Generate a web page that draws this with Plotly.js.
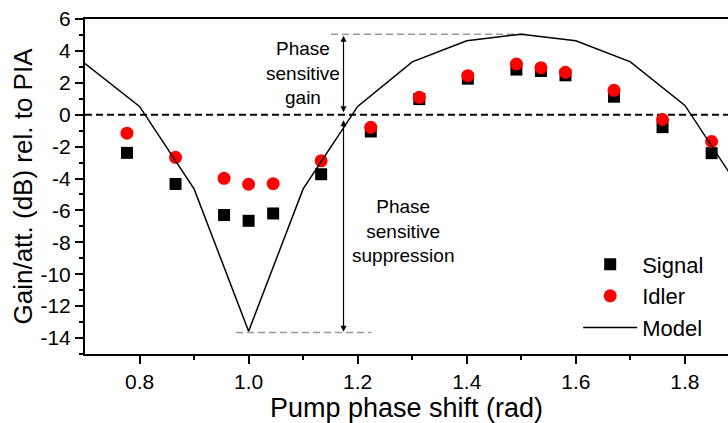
<!DOCTYPE html>
<html>
<head>
<meta charset="utf-8">
<script src="https://cdn.plot.ly/plotly-3.0.1.min.js"></script>
<style>
  html, body { margin: 0; padding: 0; background: #fff; overflow: hidden; }
  #chart { width: 728px; height: 423px; }
</style>
</head>
<body>
<div id="chart"></div>
<script>
// Measured data (pump phase shift in rad, gain/attenuation in dB)
const phaseData = [0.777, 0.866, 0.955, 1.000, 1.045, 1.133, 1.224, 1.313, 1.402, 1.491, 1.536, 1.581, 1.670, 1.759, 1.849];
const signalDb  = [-2.39, -4.34, -6.29, -6.65, -6.19, -3.73, -1.05, 0.98, 2.26, 2.83, 2.74, 2.47, 1.13, -0.78, -2.41];
const idlerDb   = [-1.16, -2.67, -3.99, -4.36, -4.32, -2.89, -0.79, 1.09, 2.45, 3.18, 2.95, 2.66, 1.53, -0.30, -1.68];

// Model curve
const modelPhase = [0.7, 0.8, 0.9, 1.0, 1.1, 1.2, 1.3, 1.4, 1.5, 1.6, 1.7, 1.8, 1.9];
const modelDb    = [3.21, 0.52, -4.65, -13.57, -4.65, 0.52, 3.31, 4.63, 5.05, 4.63, 3.31, 0.58, -4.6];

// Tick labels
const xTickVals = [0.8, 1.0, 1.2, 1.4, 1.6, 1.8];
const xTickText = ['0.8', '1.0', '1.2', '1.4', '1.6', '1.8'];
const yTickVals = [-14, -12, -10, -8, -6, -4, -2, 0, 2, 4, 6];
const yTickText = ['-14', '-12', '-10', '-8', '-6', '-4', '-2', '0', '2', '4', '6'];

// Annotation reference levels
const arrowX = 1.174;
const gainTop = 5.05;
const suppressionBottom = -13.65;
const gainLineX = [1.151, 1.513];
const suppLineX = [0.977, 1.225];

const font = "Arial, 'Liberation Sans', sans-serif";

const traces = [
  {
    x: phaseData, y: signalDb, name: 'Signal', type: 'scatter', mode: 'markers',
    marker: { symbol: 'square', size: 12, color: '#000000' }
  },
  {
    x: phaseData, y: idlerDb, name: 'Idler', type: 'scatter', mode: 'markers',
    marker: { symbol: 'circle', size: 13, color: '#ff0000' }
  },
  {
    x: modelPhase, y: modelDb, name: 'Model', type: 'scatter', mode: 'lines',
    line: { color: '#000000', width: 1.5 }
  }
];

const layout = {
  width: 728, height: 423,
  margin: { l: 85, r: 0, t: 19, b: 69 },
  paper_bgcolor: '#ffffff', plot_bgcolor: '#ffffff',
  font: { family: font, color: '#000' },
  showlegend: true,
  legend: {
    x: 0.767, y: 0.33, xanchor: 'left', yanchor: 'top',
    itemwidth: 54,
    font: { size: 22, family: font, color: '#000' },
    bgcolor: 'rgba(0,0,0,0)', traceorder: 'normal'
  },
  xaxis: {
    range: [0.7, 1.879],
    showgrid: false, zeroline: false,
    showline: true, linecolor: '#000', linewidth: 2, mirror: true,
    ticks: 'outside', ticklen: 8, tickwidth: 2, tickcolor: '#000',
    tickvals: xTickVals, ticktext: xTickText,
    minor: { tickvals: [0.9, 1.1, 1.3, 1.5, 1.7], ticks: 'outside', ticklen: 4, tickwidth: 2, tickcolor: '#000' },
    tickfont: { size: 21, family: font, color: '#000' },
    title: { text: 'Pump phase shift (rad)', font: { size: 27, family: font, color: '#000' }, standoff: 3 }
  },
  yaxis: {
    range: [-15, 6],
    showgrid: false, zeroline: false,
    showline: true, linecolor: '#000', linewidth: 2, mirror: false,
    ticks: 'outside', ticklen: 8, tickwidth: 2, tickcolor: '#000',
    tickvals: yTickVals, ticktext: yTickText,
    minor: { tickvals: [-15, -13, -11, -9, -7, -5, -3, -1, 1, 3, 5], ticks: 'outside', ticklen: 4, tickwidth: 2, tickcolor: '#000' },
    tickfont: { size: 21, family: font, color: '#000' },
    title: { text: 'Gain/att. (dB) rel. to PIA', font: { size: 26, family: font, color: '#000' }, standoff: 0 }
  },
  shapes: [
    { type: 'line', xref: 'paper', x0: 0, x1: 1, yref: 'y', y0: 0, y1: 0,
      line: { color: '#000', width: 2, dash: '7px,4px' }, layer: 'below' },
    { type: 'line', xref: 'x', x0: gainLineX[0], x1: gainLineX[1], yref: 'y', y0: gainTop, y1: gainTop,
      line: { color: '#999', width: 1.5, dash: '7px,4px' }, layer: 'below' },
    { type: 'line', xref: 'x', x0: suppLineX[0], x1: suppLineX[1], yref: 'y', y0: suppressionBottom, y1: suppressionBottom,
      line: { color: '#999', width: 1.5, dash: '7px,4px' }, layer: 'below' }
  ],
  annotations: [
    { x: arrowX, y: 0.15, ax: arrowX, ay: gainTop, xref: 'x', yref: 'y', axref: 'x', ayref: 'y',
      text: '', showarrow: true, arrowside: 'end+start', arrowhead: 2, startarrowhead: 2,
      arrowsize: 1, startarrowsize: 1, arrowwidth: 1.2, arrowcolor: '#000', standoff: 0, startstandoff: 0 },
    { x: arrowX, y: suppressionBottom + 0.05, ax: arrowX, ay: -0.25, xref: 'x', yref: 'y', axref: 'x', ayref: 'y',
      text: '', showarrow: true, arrowside: 'end+start', arrowhead: 2, startarrowhead: 2,
      arrowsize: 1, startarrowsize: 1, arrowwidth: 1.2, arrowcolor: '#000', standoff: 0, startstandoff: 0 },
    { x: 1.100, y: 2.6, xref: 'x', yref: 'y', showarrow: false, align: 'center',
      text: 'Phase<br>sensitive<br>gain', font: { size: 19, family: font, color: '#000' } },
    { x: 1.283, y: -7.3, xref: 'x', yref: 'y', showarrow: false, align: 'center',
      text: 'Phase<br>sensitive<br>suppression', font: { size: 19, family: font, color: '#000' } }
  ]
};

Plotly.newPlot('chart', traces, layout, { displayModeBar: false, staticPlot: true });
</script>
</body>
</html>
